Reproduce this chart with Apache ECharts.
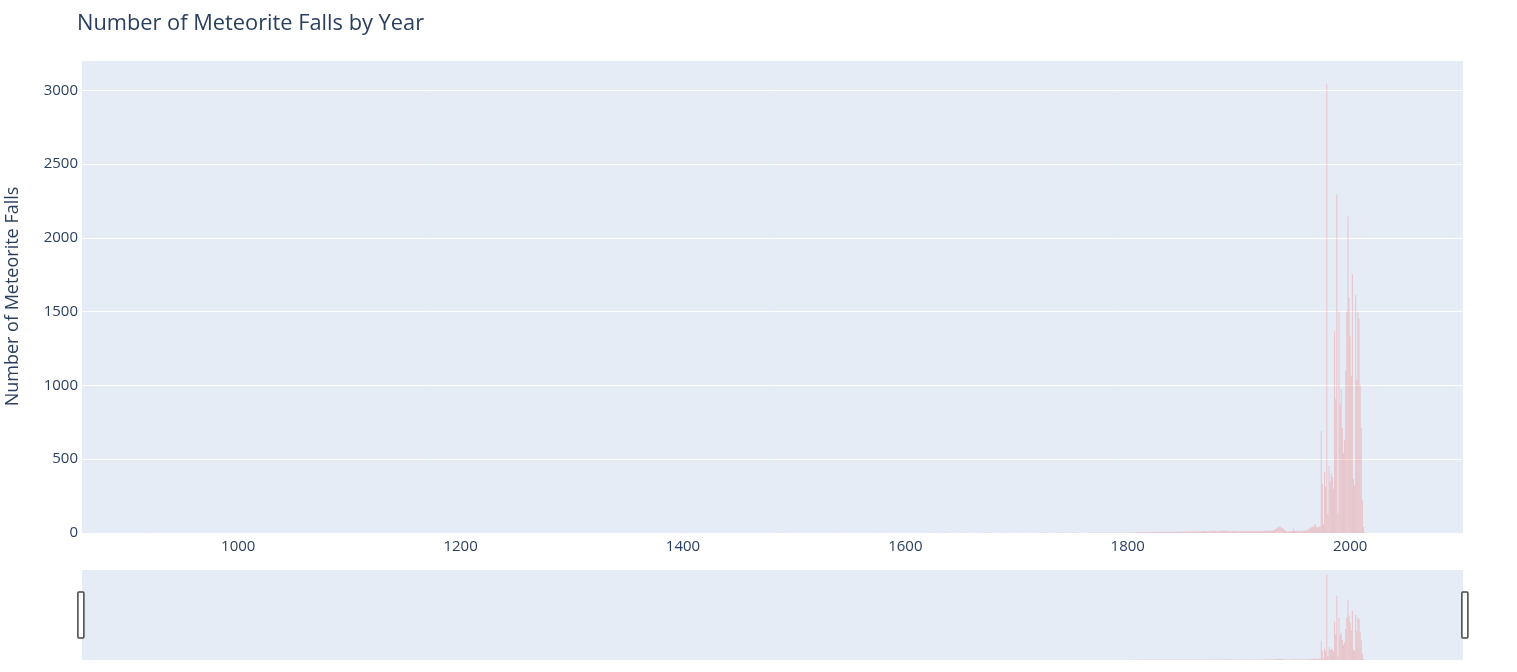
<!DOCTYPE html>
<html>
<head>
<meta charset="utf-8">
<script src="https://cdn.jsdelivr.net/npm/echarts@6/dist/echarts.min.js"></script>
<style>
html,body{margin:0;padding:0;background:#ffffff;}
#chart{width:1517px;height:672px;}
</style>
</head>
<body>
<div id="chart"></div>
<script>
// ---- data ----
const earlyYears = [860, 921, 1399, 1490, 1491, 1540, 1575, 1583, 1620, 1621, 1623, 1628, 1635, 1636, 1647, 1650, 1654, 1668, 1671, 1673, 1677, 1688, 1704, 1715, 1722, 1723, 1727, 1733, 1738, 1740, 1741, 1743, 1750, 1751, 1753, 1766, 1768, 1770, 1773, 1775, 1776, 1779, 1780, 1782, 1784, 1785, 1787, 1790, 1791, 1794, 1795, 1796, 1797, 1798, 1799];
const earlyCounts = [1, 1, 1, 1, 1, 1, 1, 1, 1, 1, 1, 1, 1, 1, 1, 1, 1, 1, 1, 1, 1, 1, 1, 1, 1, 1, 1, 1, 1, 1, 1, 1, 1, 1, 1, 1, 1, 1, 2, 1, 1, 1, 1, 1, 1, 2, 1, 1, 1, 1, 2, 1, 2, 2, 1];

const modernYears = [
  1800,1801,1802,1803,1804,1805,1806,1807,1808,1809,
  1810,1811,1812,1813,1814,1815,1816,1817,1818,1819,
  1820,1821,1822,1823,1824,1825,1826,1827,1828,1829,
  1830,1831,1832,1833,1834,1835,1836,1837,1838,1839,
  1840,1841,1842,1843,1844,1845,1846,1847,1848,1849,
  1850,1851,1852,1853,1854,1855,1856,1857,1858,1859,
  1860,1861,1862,1863,1864,1865,1866,1867,1868,1869,
  1870,1871,1872,1873,1874,1875,1876,1877,1878,1879,
  1880,1881,1882,1883,1884,1885,1886,1887,1888,1889,
  1890,1891,1892,1893,1894,1895,1896,1897,1898,1899,
  1900,1901,1902,1903,1904,1905,1906,1907,1908,1909,
  1910,1911,1912,1913,1914,1915,1916,1917,1918,1919,
  1920,1921,1922,1923,1924,1925,1926,1927,1928,1929,
  1930,1931,1932,1933,1934,1935,1936,1937,1938,1939,
  1940,1941,1942,1943,1944,1945,1946,1947,1948,1949,
  1950,1951,1952,1953,1954,1955,1956,1957,1958,1959,
  1960,1961,1962,1963,1964,1965,1966,1967,1968,1969,
  1970,1971,1972,1973,1974,1975,1976,1977,1978,1979,
  1980,1981,1982,1983,1984,1985,1986,1987,1988,1989,
  1990,1991,1992,1993,1994,1995,1996,1997,1998,1999,
  2000,2001,2002,2003,2004,2005,2006,2007,2008,2009,
  2010,2011,2012,2013
];
const modernCounts = [
  3,2,4,5,4,3,4,5,6,5,
  5,6,4,7,5,6,6,5,7,6,
  6,7,5,8,6,7,8,6,7,8,
  7,6,8,7,9,8,7,9,8,7,
  8,9,7,10,8,9,11,9,8,10,
  9,8,10,11,9,10,12,11,10,9,
  11,10,12,11,13,10,12,11,13,12,
  12,11,13,12,14,11,13,12,15,14,
  13,12,14,16,13,15,17,15,16,14,
  15,14,13,12,14,13,15,12,11,13,
  12,11,13,14,12,11,13,12,14,13,
  12,13,14,12,11,13,12,14,13,12,
  13,14,12,13,15,14,16,17,15,16,
  15,17,22,27,30,38,42,47,36,32,
  28,22,15,12,11,12,13,12,14,29,
  16,14,15,13,14,15,13,14,15,16,
  20,18,22,30,35,38,45,38,60,52,
  41,38,42,45,690,332,60,413,314,3046,
  133,454,348,404,381,300,1368,907,2296,133,
  1503,870,975,711,542,630,1100,1503,2147,1594,
  1334,1063,1754,366,325,1612,1036,1496,1450,1002,
  711,223,40,5
];
const lateYears = [2101];
const lateCounts = [1];

const xTickValues = [1000, 1200, 1400, 1600, 1800, 2000];

const titleText = 'Number of Meteorite Falls by Year';
const yAxisTitle = 'Number of Meteorite Falls';

// ---- build series pairs ----
const allYears = earlyYears.concat(modernYears, lateYears);
const allCounts = earlyCounts.concat(modernCounts, lateCounts);
const pairs = allYears.map((y, i) => [y, allCounts[i]]);

const FONT = '"Open Sans", "DejaVu Sans", Arial, sans-serif';
const TXT = '#2a3f5f';
const BG = '#E5ECF6';
const BAR = 'rgba(240,128,128,0.38)';
const X_MIN = 859.5, X_MAX = 2101.5, Y_MAX = 3206;
const plain = v => String(v);

const chart = echarts.init(document.getElementById('chart'), null, {renderer: 'canvas'});
chart.setOption({
  animation: false,
  backgroundColor: '#ffffff',
  title: {
    text: titleText,
    left: 77,
    top: 13,
    padding: 0,
    textStyle: {fontFamily: FONT, fontSize: 21.8, fontWeight: 'normal', color: TXT}
  },
  grid: [
    {left: 82, right: 54, top: 60, height: 473, show: true, backgroundColor: BG, borderWidth: 0,
     containLabel: false, outerBoundsMode: 'none'},
    {left: 82, right: 54, top: 570, height: 90, show: true, backgroundColor: BG, borderWidth: 0,
     containLabel: false, outerBoundsMode: 'none'}
  ],
  xAxis: [
    {
      type: 'value', gridIndex: 0, min: X_MIN, max: X_MAX,
      axisLine: {show: false}, axisTick: {show: false}, splitLine: {show: false},
      axisLabel: {
        customValues: xTickValues,
        formatter: plain,
        fontFamily: FONT, fontSize: 15, color: TXT, margin: 6
      }
    },
    {
      type: 'value', gridIndex: 1, min: X_MIN, max: X_MAX, show: false
    }
  ],
  yAxis: [
    {
      type: 'value', gridIndex: 0, min: 0, max: Y_MAX, interval: 500,
      name: yAxisTitle, nameLocation: 'middle', nameGap: 60, nameRotate: 90,
      nameTextStyle: {fontFamily: FONT, fontSize: 18, color: TXT},
      axisLine: {show: false}, axisTick: {show: false},
      axisLabel: {formatter: plain, fontFamily: FONT, fontSize: 15, color: TXT, margin: 4, showMaxLabel: false},
      splitLine: {show: true, lineStyle: {color: '#ffffff', width: 1}}
    },
    {
      type: 'value', gridIndex: 1, min: 0, max: Y_MAX, show: false
    }
  ],
  dataZoom: [{
    type: 'slider',
    xAxisIndex: 0,
    filterMode: 'none',
    start: 0, end: 100,
    left: 79, right: 52, top: 570, height: 90,
    backgroundColor: 'rgba(0,0,0,0)',
    borderColor: 'rgba(0,0,0,0)',
    fillerColor: 'rgba(0,0,0,0)',
    showDataShadow: false,
    showDetail: false,
    brushSelect: false,
    moveHandleSize: 0,
    handleIcon: 'path://M1,0 H5 Q6,0 6,1 V45 Q6,46 5,46 H1 Q0,46 0,45 V1 Q0,0 1,0 Z',
    handleSize: '51%',
    handleStyle: {color: '#ffffff', borderColor: '#444444', borderWidth: 1.5},
    emphasis: {handleStyle: {color: '#ffffff', borderColor: '#444444', borderWidth: 1.5}},
    dataBackground: {lineStyle: {opacity: 0}, areaStyle: {opacity: 0}}
  }],
  series: [
    {
      type: 'bar', xAxisIndex: 0, yAxisIndex: 0,
      data: pairs,
      barCategoryGap: '20%',
      itemStyle: {color: BAR},
      silent: true
    },
    {
      type: 'bar', xAxisIndex: 1, yAxisIndex: 1,
      data: pairs,
      barCategoryGap: '20%',
      itemStyle: {color: BAR},
      silent: true
    }
  ]
});
</script>
</body>
</html>
